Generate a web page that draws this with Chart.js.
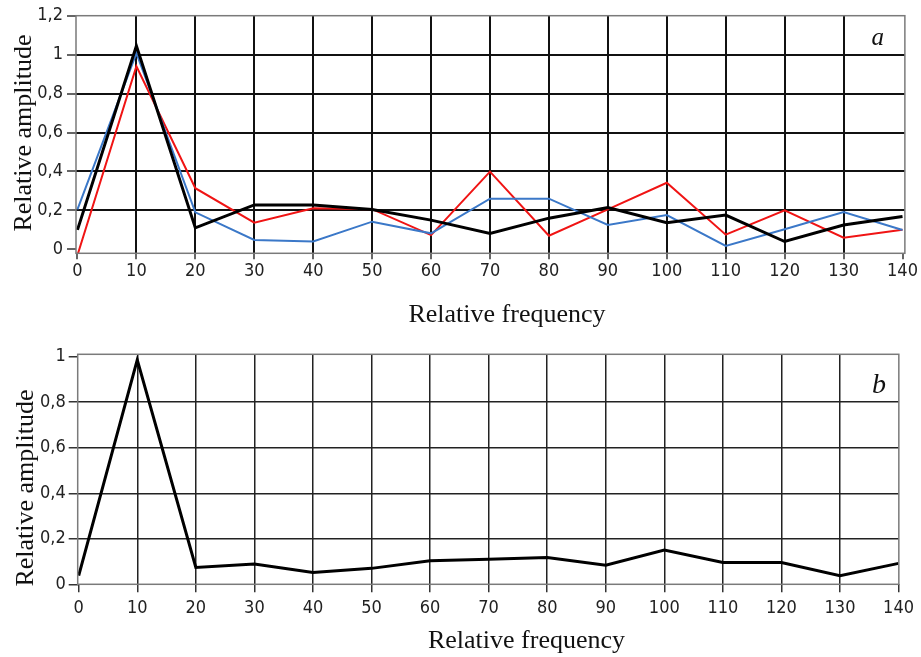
<!DOCTYPE html>
<html><head><meta charset="utf-8">
<script src="https://cdn.jsdelivr.net/npm/chart.js@4.4.1/dist/chart.umd.min.js"></script>
<style>
html,body{margin:0;padding:0;background:#fff;width:921px;height:657px;overflow:hidden}
canvas{position:absolute;left:0}
#c1{top:0}
#c2{top:335px}
</style></head><body>
<canvas id="c1" width="921" height="335"></canvas>
<canvas id="c2" width="921" height="322"></canvas>
<script>
// ---- data ----
const freq = [0,10,20,30,40,50,60,70,80,90,100,110,120,130,140];
const blackA = [0.10,1.045,0.11,0.228,0.228,0.205,0.15,0.082,0.16,0.215,0.137,0.176,0.04,0.125,0.168];
const blueA  = [0.205,1.008,0.19,0.048,0.04,0.142,0.082,0.26,0.26,0.125,0.176,0.017,0.103,0.192,0.099];
const redA   = [-0.03,0.94,0.314,0.137,0.211,0.206,0.073,0.399,0.07,0.205,0.342,0.075,0.2,0.06,0.1];
const blackB = [0.038,0.986,0.074,0.089,0.052,0.07,0.103,0.11,0.118,0.084,0.151,0.096,0.096,0.038,0.092];
const xTicks = [0,10,20,30,40,50,60,70,80,90,100,110,120,130,140];
const yTicksA = [0,0.2,0.4,0.6,0.8,1,1.2];
const yLabelsA = ['0','0,2','0,4','0,6','0,8','1','1,2'];
const yTicksB = [0,0.2,0.4,0.6,0.8,1];
const yLabelsB = ['0','0,2','0,4','0,6','0,8','1'];
const xTitle = 'Relative frequency';
const yTitle = 'Relative amplitude';

const pts = (ys) => freq.map((x,i)=>({x:x,y:ys[i]}));
const tickFont = {family:"'Liberation Sans Narrow','DejaVu Sans Condensed','Liberation Sans',sans-serif", size:18, lineHeight:1};

const framePlugin = {
  id:'frameText',
  afterDatasetsDraw(chart, args, opts){
    const {ctx, chartArea:a} = chart;
    ctx.save();
    ctx.strokeStyle = opts.frameColor; ctx.lineWidth = opts.frameWidth;
    ctx.strokeRect(a.left, a.top, a.right-a.left, a.bottom-a.top);
    ctx.restore();
  },
  afterDraw(chart, args, opts){
    const ctx = chart.ctx;
    (opts.texts||[]).forEach(t=>{
      ctx.save();
      ctx.fillStyle = t.color || '#111';
      ctx.font = t.font;
      ctx.textAlign = 'center';
      ctx.textBaseline = 'alphabetic';
      ctx.translate(t.x, t.y);
      if (t.rot) ctx.rotate(t.rot);
      ctx.fillText(t.text, 0, 0);
      ctx.restore();
    });
  }
};

function makeChart(id, cfg){
  const hide = (v, edges) => edges.some(e=>Math.abs(v-e)<1e-9);
  return new Chart(document.getElementById(id), {
    type:'line',
    data:{datasets:cfg.datasets},
    plugins:[framePlugin],
    options:{
      responsive:false, animation:false, devicePixelRatio:1,
      layout:{padding:cfg.padding},
      elements:{point:{radius:0}, line:{tension:0}},
      plugins:{legend:{display:false}, tooltip:{enabled:false},
        frameText:{frameColor:'#7a7a7a', frameWidth:1.5, texts:cfg.texts}},
      scales:{
        x:{type:'linear', min:cfg.xmin, max:cfg.xmax,
          afterBuildTicks:s=>{s.ticks = xTicks.map(v=>({value:v}));},
          afterFit:s=>{s.height = cfg.xh;},
          border:{display:false},
          grid:{color:c=>hide(c.tick.value,[0,140])?'rgba(0,0,0,0)':cfg.gridColor,
                lineWidth:cfg.gridWidth, tickColor:'#333', tickWidth:1.5, tickLength:cfg.xTickLen},
          ticks:{font:tickFont, color:'#222', padding:cfg.xPad, maxRotation:0, autoSkip:false,
                 callback:(v,i)=>String(xTicks[i])}
        },
        y:{type:'linear', min:cfg.ymin, max:cfg.ymax,
          afterBuildTicks:s=>{s.ticks = cfg.yTicks.map(v=>({value:v}));},
          afterFit:s=>{s.width = cfg.yw;},
          border:{display:false},
          grid:{color:c=>hide(c.tick.value,[0,cfg.yTicks[cfg.yTicks.length-1]])?'rgba(0,0,0,0)':cfg.gridColor,
                lineWidth:cfg.gridWidth, tickColor:'#333', tickWidth:1.5, tickLength:cfg.yTickLen},
          ticks:{font:tickFont, color:'#222', padding:cfg.yPad, autoSkip:false,
                 callback:(v,i)=>cfg.yLabels[i]}
        }
      }
    }
  });
}

const serif = "26px 'Liberation Serif','Times New Roman',serif";

makeChart('c1', {
  datasets:[
    {data:pts(blackA), borderColor:'#000000', borderWidth:3, order:0},
    {data:pts(blueA), borderColor:'#3b78c8', borderWidth:2, order:1},
    {data:pts(redA), borderColor:'#f01414', borderWidth:2, order:2}
  ],
  padding:{left:0, top:15.7, right:12, bottom:0},
  xmin:-0.25, xmax:140.4, ymin:-0.0205, ymax:1.2,
  xh:81.7, yw:76, xTickLen:6, xPad:3, yTickLen:9, yPad:4,
  gridColor:'#111', gridWidth:2,
  yTicks:yTicksA, yLabels:yLabelsA,
  texts:[
    {text:xTitle, x:507, y:321.5, font:serif},
    {text:yTitle, x:30.5, y:133, font:serif, rot:-Math.PI/2},
    {text:'a', x:877.7, y:45, font:"italic 25px 'Liberation Serif',serif"}
  ]
});

makeChart('c2', {
  datasets:[
    {data:pts(blackB), borderColor:'#000000', borderWidth:3}
  ],
  padding:{left:0, top:19.3, right:18, bottom:0},
  xmin:-0.17, xmax:140.05, ymin:0, ymax:1.0105,
  xh:72.7, yw:77.7, xTickLen:8, xPad:7, yTickLen:9, yPad:3,
  gridColor:'#222', gridWidth:1.5,
  yTicks:yTicksB, yLabels:yLabelsB,
  texts:[
    {text:xTitle, x:526.5, y:313, font:serif},
    {text:yTitle, x:33, y:153, font:serif, rot:-Math.PI/2},
    {text:'b', x:879, y:58.3, font:"italic 28px 'Liberation Serif',serif"}
  ]
});
</script>
</body></html>
